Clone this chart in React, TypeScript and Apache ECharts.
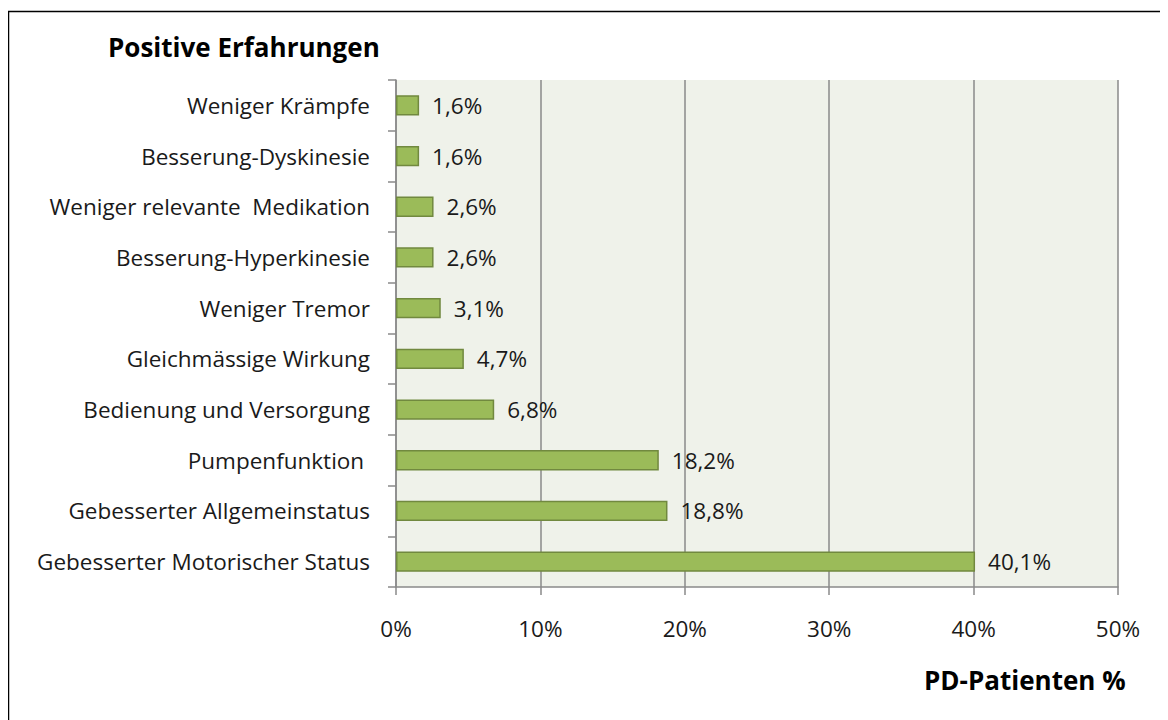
import React, { useEffect, useRef } from "react";
import * as echarts from "echarts";

const categories = [
  "Gebesserter Motorischer Status",
  "Gebesserter Allgemeinstatus",
  "Pumpenfunktion ",
  "Bedienung und Versorgung",
  "Gleichmässige Wirkung",
  "Weniger Tremor",
  "Besserung-Hyperkinesie",
  "Weniger relevante  Medikation",
  "Besserung-Dyskinesie",
  "Weniger Krämpfe",
];
const values = [40.1, 18.8, 18.2, 6.8, 4.7, 3.1, 2.6, 2.6, 1.6, 1.6];
const xTicks = [0, 10, 20, 30, 40, 50];

const FONT = "'Open Sans', Lato, sans-serif";
const FS = 22.5;

export default function App() {
  const ref = useRef<HTMLDivElement>(null);
  useEffect(() => {
    if (!ref.current) return;
    const chart = echarts.init(ref.current, null, { renderer: "svg" });
    chart.setOption({
      animation: false,
      backgroundColor: "#ffffff",
      textStyle: { fontFamily: FONT },
      graphic: [
        {
          type: "rect",
          shape: { x: 0.5, y: 3.5, width: 1300, height: 900 },
          style: { fill: "none", stroke: "#000", lineWidth: 1.5 },
          silent: true,
        },
        {
          type: "text",
          x: 100,
          y: 39,
          style: {
            text: "Positive Erfahrungen",
            font: `bold 26px ${FONT}`,
            fill: "#000",
            verticalAlign: "middle",
          },
        },
        {
          type: "text",
          x: 916,
          y: 672,
          style: {
            text: "PD-Patienten %",
            font: `bold 26px ${FONT}`,
            fill: "#000",
            verticalAlign: "middle",
          },
        },
      ],
      grid: {
        left: 388,
        top: 72,
        width: 722,
        height: 507,
        show: true,
        backgroundColor: "#EFF2EA",
        borderWidth: 0,
      },
      xAxis: {
        type: "value",
        min: xTicks[0],
        max: xTicks[xTicks.length - 1],
        interval: 10,
        axisLine: { show: true, lineStyle: { color: "#8a8a8a", width: 1.5 } },
        axisTick: { show: true, length: 8, lineStyle: { color: "#8a8a8a", width: 1.5 } },
        splitLine: { show: true, lineStyle: { color: "#8a8a8a", width: 1.5 } },
        axisLabel: {
          margin: 30,
          fontSize: FS,
          color: "#1a1a1a",
          fontFamily: FONT,
          formatter: (v: number) => `${v}%`,
        },
      },
      yAxis: {
        type: "category",
        data: categories,
        axisLine: { show: true, lineStyle: { color: "#8a8a8a", width: 1.5 } },
        axisTick: { show: true, length: 8, lineStyle: { color: "#8a8a8a", width: 1.5 } },
        axisLabel: {
          margin: 26,
          fontSize: FS,
          color: "#1a1a1a",
          fontFamily: FONT,
        },
      },
      series: [
        {
          type: "bar",
          data: values,
          barWidth: "40%",
          itemStyle: { color: "#9BBB59", borderColor: "#71893F", borderWidth: 1.5 },
          label: {
            show: true,
            position: "right",
            distance: 13,
            fontSize: FS,
            color: "#1a1a1a",
            fontFamily: FONT,
            formatter: (p: any) => `${String(p.value).replace(".", ",")}%`,
          },
        },
      ],
    });
    return () => chart.dispose();
  }, []);
  return <div ref={ref} style={{ width: 1160, height: 712 }} />;
}
